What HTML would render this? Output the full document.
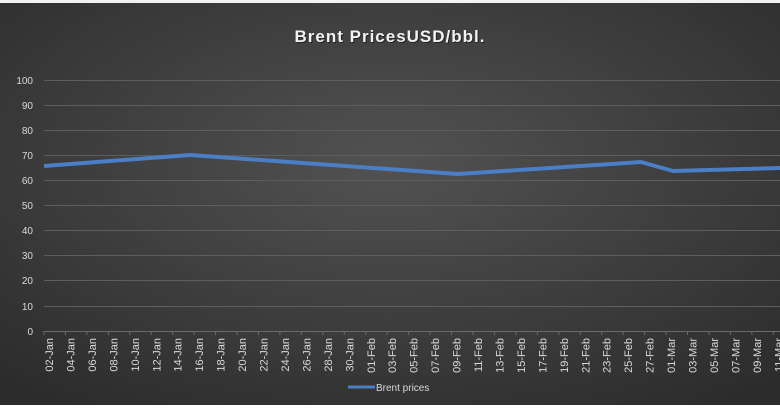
<!DOCTYPE html>
<html><head><style>
body{margin:0;width:780px;height:405px;overflow:hidden;background:#fff}
</style></head><body>
<svg width="780" height="405" xmlns="http://www.w3.org/2000/svg" font-family="Liberation Sans, sans-serif">
<defs>
<radialGradient id="bg" cx="50%" cy="40%" r="75%">
<stop offset="0" stop-color="#525252"/><stop offset="1" stop-color="#2b2b2b"/>
</radialGradient>
</defs>
<rect x="0" y="0" width="780" height="3" fill="#f2f2f2"/>
<rect x="0" y="3" width="780" height="402" fill="url(#bg)"/>
<text x="391" y="43" text-anchor="middle" fill="#222" font-size="17" font-weight="bold" letter-spacing="1">Brent PricesUSD/bbl.</text>
<text x="390" y="42" text-anchor="middle" fill="#f2f2f2" font-size="17" font-weight="bold" letter-spacing="1">Brent PricesUSD/bbl.</text>
<g stroke="#5e5e5e" stroke-width="1">
<line x1="44" x2="780" y1="80.5" y2="80.5"/><line x1="44" x2="780" y1="105.5" y2="105.5"/>
<line x1="44" x2="780" y1="130.5" y2="130.5"/><line x1="44" x2="780" y1="155.5" y2="155.5"/>
<line x1="44" x2="780" y1="180.5" y2="180.5"/><line x1="44" x2="780" y1="205.5" y2="205.5"/>
<line x1="44" x2="780" y1="230.5" y2="230.5"/><line x1="44" x2="780" y1="255.5" y2="255.5"/>
<line x1="44" x2="780" y1="280.5" y2="280.5"/><line x1="44" x2="780" y1="306.5" y2="306.5"/>
<line x1="44" x2="780" y1="331.5" y2="331.5" stroke="#6a6a6a"/>
</g>
<g fill="#d9d9d9" font-size="10" text-anchor="end">
<text x="33" y="84">100</text><text x="33" y="109">90</text><text x="33" y="134">80</text>
<text x="33" y="159">70</text><text x="33" y="184">60</text><text x="33" y="209">50</text>
<text x="33" y="234">40</text><text x="33" y="259">30</text><text x="33" y="284">20</text>
<text x="33" y="310">10</text><text x="33" y="335">0</text>
</g>
<polyline points="44,166 190,155 458,174 641,162 673,171 780,168" fill="none" stroke="#4a7fc6" stroke-width="4" stroke-linejoin="round"/>
<g stroke="#6a6a6a">
<path d="M44 331v4M65.45 331v4M86.9 331v4M108.35 331v4M129.8 331v4M151.25 331v4M172.7 331v4M194.15 331v4M215.6 331v4M237.05 331v4M258.5 331v4M279.95 331v4M301.4 331v4M322.85 331v4M344.3 331v4M365.75 331v4M387.2 331v4M408.65 331v4M430.1 331v4M451.55 331v4M473 331v4M494.45 331v4M515.9 331v4M537.35 331v4M558.8 331v4M580.25 331v4M601.7 331v4M623.15 331v4M644.6 331v4M666.05 331v4M687.5 331v4M708.95 331v4M730.4 331v4M751.85 331v4M773.3 331v4"/>
</g>
<g fill="#d9d9d9" font-size="11" text-anchor="end">
<text transform="translate(53,338) rotate(-90)">02-Jan</text>
<text transform="translate(74.45,338) rotate(-90)">04-Jan</text>
<text transform="translate(95.9,338) rotate(-90)">06-Jan</text>
<text transform="translate(117.35,338) rotate(-90)">08-Jan</text>
<text transform="translate(138.8,338) rotate(-90)">10-Jan</text>
<text transform="translate(160.25,338) rotate(-90)">12-Jan</text>
<text transform="translate(181.7,338) rotate(-90)">14-Jan</text>
<text transform="translate(203.15,338) rotate(-90)">16-Jan</text>
<text transform="translate(224.6,338) rotate(-90)">18-Jan</text>
<text transform="translate(246.05,338) rotate(-90)">20-Jan</text>
<text transform="translate(267.5,338) rotate(-90)">22-Jan</text>
<text transform="translate(288.95,338) rotate(-90)">24-Jan</text>
<text transform="translate(310.4,338) rotate(-90)">26-Jan</text>
<text transform="translate(331.85,338) rotate(-90)">28-Jan</text>
<text transform="translate(353.3,338) rotate(-90)">30-Jan</text>
<text transform="translate(374.75,338) rotate(-90)">01-Feb</text>
<text transform="translate(396.2,338) rotate(-90)">03-Feb</text>
<text transform="translate(417.65,338) rotate(-90)">05-Feb</text>
<text transform="translate(439.1,338) rotate(-90)">07-Feb</text>
<text transform="translate(460.55,338) rotate(-90)">09-Feb</text>
<text transform="translate(482,338) rotate(-90)">11-Feb</text>
<text transform="translate(503.45,338) rotate(-90)">13-Feb</text>
<text transform="translate(524.9,338) rotate(-90)">15-Feb</text>
<text transform="translate(546.35,338) rotate(-90)">17-Feb</text>
<text transform="translate(567.8,338) rotate(-90)">19-Feb</text>
<text transform="translate(589.25,338) rotate(-90)">21-Feb</text>
<text transform="translate(610.7,338) rotate(-90)">23-Feb</text>
<text transform="translate(632.15,338) rotate(-90)">25-Feb</text>
<text transform="translate(653.6,338) rotate(-90)">27-Feb</text>
<text transform="translate(675.05,338) rotate(-90)">01-Mar</text>
<text transform="translate(696.5,338) rotate(-90)">03-Mar</text>
<text transform="translate(717.95,338) rotate(-90)">05-Mar</text>
<text transform="translate(739.4,338) rotate(-90)">07-Mar</text>
<text transform="translate(760.85,338) rotate(-90)">09-Mar</text>
<text transform="translate(782.3,338) rotate(-90)">11-Mar</text>
</g>
<line x1="348" x2="375" y1="387" y2="387" stroke="#4a7fc6" stroke-width="3"/>
<text x="376" y="391" fill="#d9d9d9" font-size="10">Brent prices</text>
</svg>
</body></html>
